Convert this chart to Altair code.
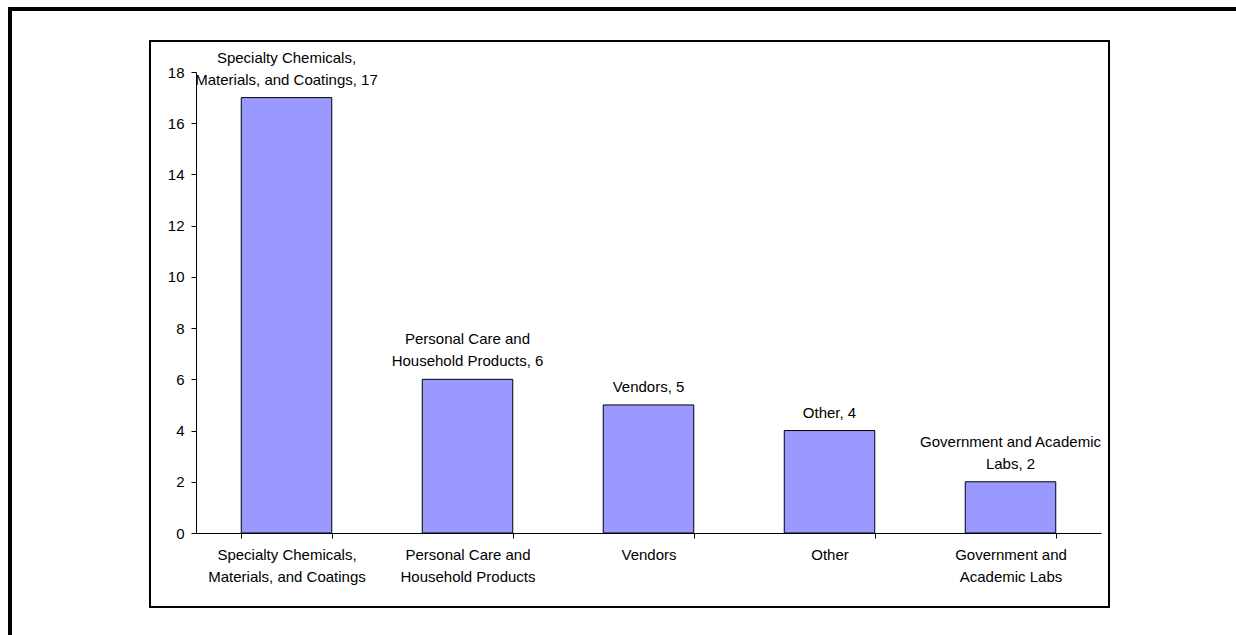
import altair as alt
import pandas as pd

categories = [
    "Specialty Chemicals, Materials, and Coatings",
    "Personal Care and Household Products",
    "Vendors",
    "Other",
    "Government and Academic Labs",
]
counts = [17, 6, 5, 4, 2]
axis_labels = [
    "Specialty Chemicals,|Materials, and Coatings",
    "Personal Care and|Household Products",
    "Vendors",
    "Other",
    "Government and|Academic Labs",
]
label_upper = [
    "Specialty Chemicals,",
    "Personal Care and",
    "",
    "",
    "Government and Academic",
]
label_lower = [
    "Materials, and Coatings, 17",
    "Household Products, 6",
    "Vendors, 5",
    "Other, 4",
    "Labs, 2",
]
y_ticks = [0, 2, 4, 6, 8, 10, 12, 14, 16, 18]

df = pd.DataFrame({
    "category": categories,
    "axis_label": axis_labels,
    "count": counts,
    "upper": label_upper,
    "lower": label_lower,
})

FONT = "Liberation Sans"

x_enc = alt.X(
    "axis_label:N",
    sort=axis_labels,
    title=None,
    scale=alt.Scale(paddingInner=0.5, paddingOuter=0.25),
    axis=alt.Axis(
        labelAngle=0,
        labelExpr="split(datum.label, '|')",
        labelLineHeight=22,
        labelFontSize=15,
        labelFont=FONT,
        labelColor="black",
        labelPadding=9,
        labelBaseline="top",
        tickBand="extent",
        tickSize=5,
        tickColor="black",
        domainColor="black",
        grid=False,
    ),
)

y_enc = alt.Y(
    "count:Q",
    title=None,
    scale=alt.Scale(domain=[0, 18], nice=False),
    axis=alt.Axis(
        values=y_ticks,
        labelFontSize=15,
        labelFont=FONT,
        labelColor="black",
        labelPadding=7,
        tickSize=5,
        tickColor="black",
        domainColor="black",
        grid=False,
    ),
)

bars = alt.Chart(df).mark_bar(
    color="#9999FF", stroke="black", strokeWidth=1
).encode(x=x_enc, y=y_enc)

x_plain = alt.X("axis_label:N", sort=axis_labels)

text_lower = alt.Chart(df).mark_text(
    baseline="alphabetic", dy=-13, fontSize=15, font=FONT, color="black",
).encode(x=x_plain, y=alt.Y("count:Q"), text="lower:N")

text_upper = alt.Chart(df).mark_text(
    baseline="alphabetic", dy=-35, fontSize=15, font=FONT, color="black",
).encode(x=x_plain, y=alt.Y("count:Q"), text="upper:N")

frame = alt.Chart(df).mark_rect(
    fill=None, fillOpacity=0, stroke="black", strokeWidth=1.5
).encode(
    x=alt.value(-46), x2=alt.value(913), y=alt.value(-31), y2=alt.value(535)
)

border_left = alt.Chart(df).mark_rule(color="black", strokeWidth=4).encode(
    x=alt.value(-186), y=alt.value(-65), y2=alt.value(600)
)
border_top = alt.Chart(df).mark_rule(color="black", strokeWidth=4).encode(
    x=alt.value(-188), x2=alt.value(1050), y=alt.value(-63)
)

chart = alt.layer(
    frame, bars, text_lower, text_upper, border_left, border_top
).properties(
    width=905,
    height=461,
    padding={"left": 196, "top": 72, "right": 135, "bottom": 102},
    autosize=alt.AutoSizeParams(type="none"),
    background="white",
).configure_view(stroke=None)

chart.save("out.html", embed_options={"renderer": "svg", "actions": False})
